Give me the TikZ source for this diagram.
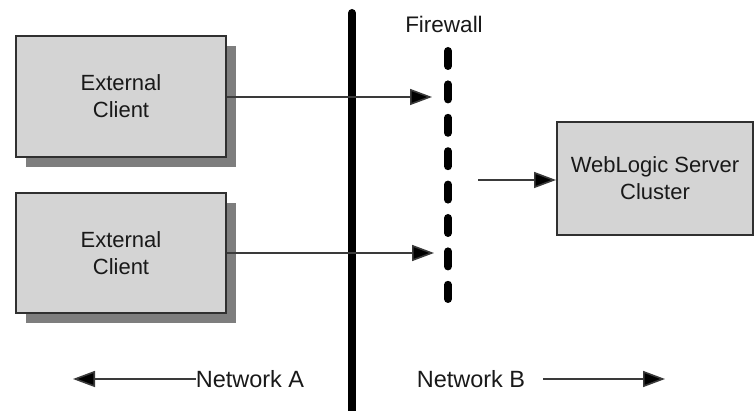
\documentclass[tikz,border=0pt]{standalone}
\usepackage{fontspec}
\setmainfont{Liberation Sans}
\usetikzlibrary{arrows.meta,shadows}
\definecolor{boxfill}{HTML}{D4D4D4}
\definecolor{boxline}{HTML}{303030}
\definecolor{shadowgray}{HTML}{7E7E7E}
\definecolor{arrowline}{HTML}{3A3A3A}
\tikzset{
  lbl/.style={font=\fontsize{22.5}{27}\selectfont, text=black!90, inner sep=0pt},
  netlbl/.style={font=\fontsize{23.5}{27}\selectfont, text=black!90, inner sep=0pt},
  boxnode/.style={draw=boxline, line width=2pt, fill=boxfill, align=center,
    font=\fontsize{22}{27}\selectfont, text=black!90},
  shadowed/.style={drop shadow={shadow xshift=10pt, shadow yshift=-10pt, fill=shadowgray, opacity=1}},
  conn/.style={draw=arrowline, line width=1.6pt, -{Triangle[length=22pt,width=16pt,fill=black]}},
}
\begin{document}
\begin{tikzpicture}[x=1pt,y=-1pt]
\useasboundingbox (0,0) rectangle (755,411);
% boxes
\node[boxnode, shadowed, minimum width=210pt, minimum height=121pt] (c1) at (121,96.5) {External\\Client};
\node[boxnode, shadowed, minimum width=210pt, minimum height=120pt] (c2) at (121,253) {External\\Client};
\node[boxnode, minimum width=196pt, minimum height=113pt] (wl) at (655,178.5) {WebLogic Server\\Cluster};
% thick network divider
\coordinate (divtop) at (352,13);
\coordinate (divbot) at (352,416);
\draw[line width=8pt, line cap=round] (divtop) -- (divbot);
% firewall
\coordinate (fwtop) at (448,51);
\coordinate (fwbot) at (448,299);
\draw[line width=8pt, line cap=round, dash pattern=on 15pt off 18.4pt] (fwtop) -- (fwbot);
\node[lbl] (fw) at (444,24) {Firewall};
% arrows
\coordinate (t1) at (432,97);
\coordinate (t2) at (434,253);
\draw[conn] (c1.east |- t1) -- (t1);
\draw[conn] (c2.east |- t2) -- (t2);
\coordinate (s3) at (478,180);
\draw[conn] (s3) -- (wl.west |- s3);
% networks
\node[netlbl] (na) at (250,379) {Network A};
\node[netlbl] (nb) at (471,379) {Network B};
\coordinate (ta) at (73,379);
\coordinate (sb) at (543,379);
\coordinate (tb) at (665,379);
\draw[conn] (na.west) -- (ta);
\draw[conn] (sb) -- (tb);
\end{tikzpicture}
\end{document}
